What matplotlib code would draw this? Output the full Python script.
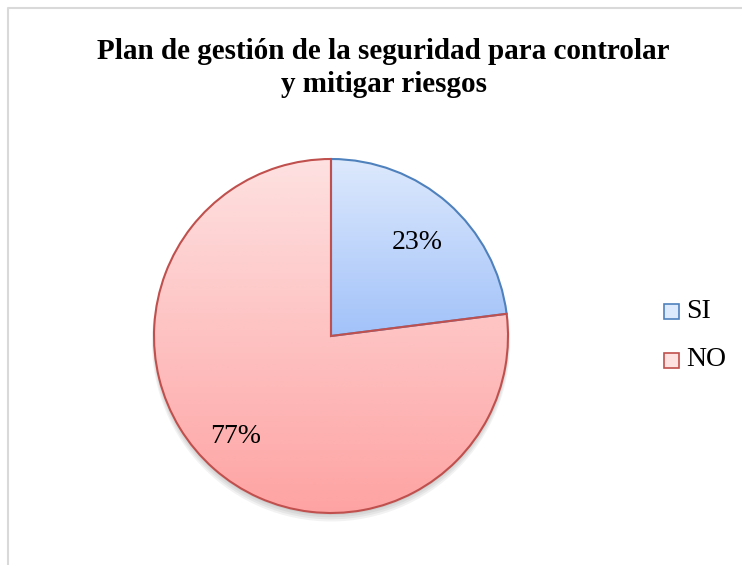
import numpy as np
import matplotlib.pyplot as plt
from matplotlib.patches import Rectangle, Circle
from matplotlib.lines import Line2D
from matplotlib.colors import to_rgb

labels = ['SI', 'NO']
values = [23, 77]
edge_colors = ['#4f81bd', '#c0504d']
top_colors = ['#dde9fd', '#fee1e1']
bottom_colors = ['#a2c2f9', '#fea3a3']
title = 'Plan de gestión de la seguridad para controlar\ny mitigar riesgos'

plt.rcParams['font.family'] = ['Liberation Serif', 'DejaVu Serif']

W, H = 742, 565
fig = plt.figure(figsize=(W / 100, H / 100), dpi=100)

# chart frame (only top/left edges visible)
fig.lines.append(Line2D([8 / W, 8 / W, 1.0], [0.0, 1 - 8 / H, 1 - 8 / H],
                        transform=fig.transFigure, color='#d9d9d9', linewidth=1.5))

cx, cy, r = 331, 336, 177
ax = fig.add_axes([(cx - r) / W, (H - cy - r) / H, 2 * r / W, 2 * r / H])

# soft shadow
for i in range(4):
    ax.add_patch(Circle((0, -0.012 - i * 0.008), 1.0 + i * 0.004, color='black', alpha=0.05,
                        linewidth=0, zorder=0, clip_on=False))

wedges, texts, autotexts = ax.pie(values, startangle=90, counterclock=False,
                                  autopct='%1.0f%%', pctdistance=0.75, radius=1,
                                  wedgeprops=dict(linewidth=1.5, fill=False),
                                  textprops=dict(fontsize=20, color='black'))
for t in texts:
    t.set_text('')

for w, ec, c0, c1 in zip(wedges, edge_colors, top_colors, bottom_colors):
    w.set_edgecolor(ec)
    w.set_zorder(3)
    w.set_clip_on(False)
    bb = w.get_path().get_extents(w.get_transform() - ax.transData)
    ymin, ymax = bb.y0, bb.y1
    a0 = np.array(to_rgb(c0))
    a1 = np.array(to_rgb(c1))
    t = np.linspace(0, 1, 256)[:, None]
    grad = (a0[None, :] * (1 - t) + a1[None, :] * t)[:, None, :]
    im = ax.imshow(grad, extent=[-1.05, 1.05, ymin, ymax], origin='upper',
                   aspect='auto', zorder=2, interpolation='bilinear')
    im.set_clip_path(w)

# label placement as in the original (best fit)
label_pos = [(0.49, 0.53), (-0.54, -0.57)]
for t, p in zip(autotexts, label_pos):
    t.set_position(p)
    t.set_zorder(5)

ax.set_xlim(-1, 1)
ax.set_ylim(-1, 1)
ax.set_aspect('auto')
ax.axis('off')

fig.text(0.517, 1 - 68 / H, title, ha='center', va='center', fontsize=21,
         fontweight='bold', linespacing=1.3)

# legend
for i, (lab, ec, c0, c1) in enumerate(zip(labels, edge_colors, top_colors, bottom_colors)):
    y = 311 + i * 49
    fig.patches.append(Rectangle((664 / W, 1 - (y + 7.5) / H), 15 / W, 15 / H,
                                 transform=fig.transFigure, facecolor=c0,
                                 edgecolor=ec, linewidth=1.2))
    fig.text(686 / W, 1 - y / H, lab, ha='left', va='center', fontsize=20)

fig.savefig('out.png', dpi=100)
